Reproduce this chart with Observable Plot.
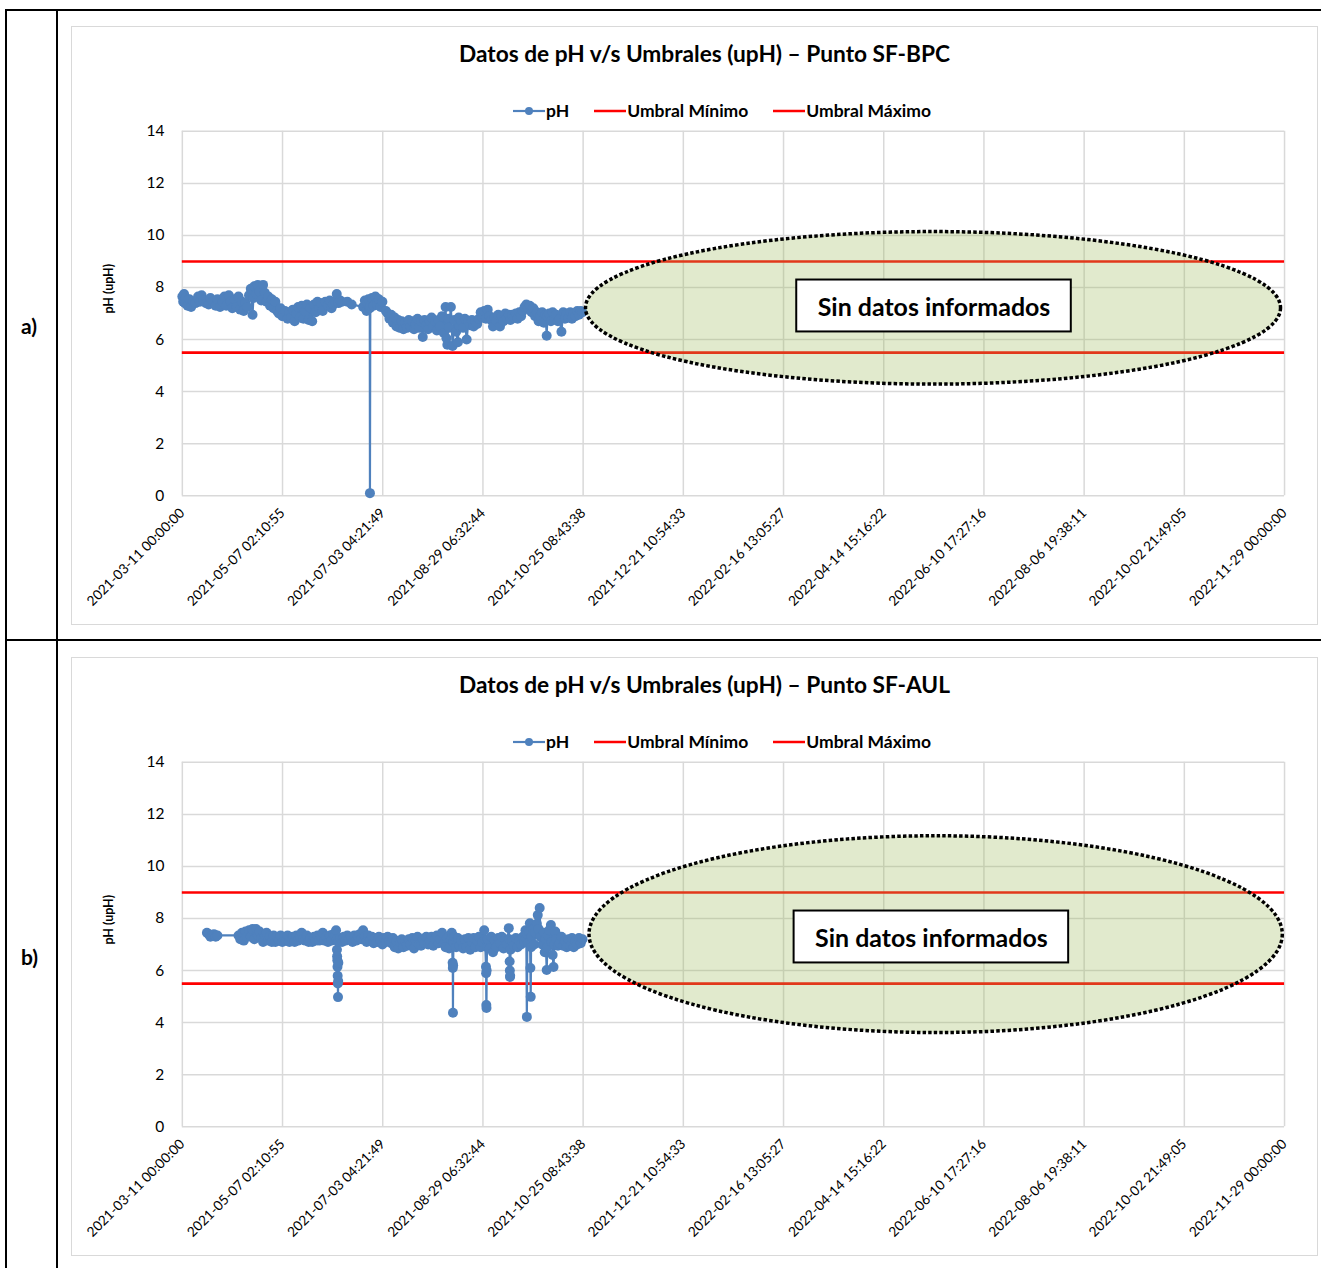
<!DOCTYPE html>
<html>
<head>
<meta charset="utf-8">
<script src="https://cdn.jsdelivr.net/npm/d3@7"></script>
<script src="https://cdn.jsdelivr.net/npm/@observablehq/plot@0.6"></script>
<style>
  html, body { margin: 0; padding: 0; background: #fff; }
  body { width: 1321px; height: 1268px; position: relative; overflow: hidden; font-family: Lato, "Open Sans", sans-serif; }
  .hline { position: absolute; height: 2px; background: #000; }
  .vline { position: absolute; width: 2px; background: #000; }
  .rowlabel { position: absolute; font-weight: bold; font-size: 21px; color: #000; }
  .box { position: absolute; left: 71px; width: 1247px; border: 1px solid #d9d9d9; box-sizing: border-box; background: #fff; }
  .title { position: absolute; left: 10px; width: 100%; text-align: center; font-weight: bold; font-size: 22.7px; color: #000; }
  .legend { position: absolute; left: 27px; width: 100%; display: flex; justify-content: center; gap: 24px; font-weight: bold; font-size: 17.5px; color: #000; align-items: center; }
  .legend span.item { display: inline-flex; align-items: center; }
  .box svg { position: absolute; left: -1px; top: -1px; }
</style>
</head>
<body>
<script>
// ---------------- data ----------------
const fechaInicio = "2021-03-11T00:00:00";
const fechaFin = "2022-11-29T00:00:00";
const umbralMinimo = 5.5;
const umbralMaximo = 9;
const yTicks = [0, 2, 4, 6, 8, 10, 12, 14];
const xTickLabels = [
  "2021-03-11 00:00:00", "2021-05-07 02:10:55", "2021-07-03 04:21:49", "2021-08-29 06:32:44",
  "2021-10-25 08:43:38", "2021-12-21 10:54:33", "2022-02-16 13:05:27", "2022-04-14 15:16:22",
  "2022-06-10 17:27:16", "2022-08-06 19:38:11", "2022-10-02 21:49:05", "2022-11-29 00:00:00"
];
const titulos = ["Datos de pH v/s Umbrales (upH) \u2013 Punto SF-BPC", "Datos de pH v/s Umbrales (upH) \u2013 Punto SF-AUL"];
const rotulos = ["a)", "b)"];
const textoSinDatos = "Sin datos informados";

// Punto SF-BPC: días desde 2021-03-11 y pH
const diasBPC = [
  0, 0.5, 1, 1.5, 2, 3, 4, 5, 6, 7.5, 9, 10, 11, 12, 13.5, 15, 16, 17.5, 19, 20, 21.5, 23, 24, 25, 26.5, 27.5, 28.5, 30, 31, 32, 33, 34, 35, 36, 37,
  38, 39, 40, 40.5, 41, 42, 43, 44, 45, 46, 47, 48, 49, 50, 51, 52, 53, 54, 55, 56, 57, 58.5, 60, 61, 62, 63, 64, 65, 66, 67, 68, 69, 70, 71, 72, 73, 74, 75, 76, 77, 78, 79, 80, 81.5, 83, 84, 85, 86, 87, 88, 89, 90, 91, 94, 96.5,
  103, 104, 105, 106, 106.8, 106.9, 107.1, 108, 109, 110, 111, 112, 113, 114,
  116, 117, 118, 119, 120, 121, 122, 123, 124, 125, 126, 127, 128, 129, 130, 131, 132, 133, 134, 135, 136, 137, 138, 139, 140, 141, 142, 143, 144, 145, 146, 147, 148, 149, 150, 150.5, 151, 151.5, 152, 153, 154, 155, 156, 157, 157.5, 158, 159, 160, 161, 162, 163, 164, 165, 166, 167, 168, 169,
  170, 171, 172, 173, 174, 175, 176, 177, 178, 179, 180, 181, 182, 183, 184, 185, 186, 187, 188, 189, 190, 191, 192, 193, 194, 195, 196, 197, 198, 199, 200, 201, 202, 203, 204, 205, 206, 207, 207.6, 208, 209, 210, 211, 212, 213, 214, 215, 216, 217, 218, 219, 220, 221, 222, 223, 224, 225, 226, 227, 228
];
const phBPC = [
  7.65, 7.45, 7.75, 7.4, 7.6, 7.3, 7.55, 7.25, 7.45, 7.4, 7.65, 7.45, 7.7, 7.5, 7.4, 7.35, 7.6, 7.45, 7.3, 7.55, 7.25, 7.45, 7.65, 7.3, 7.7, 7.45, 7.2, 7.55, 7.25, 7.65, 7.15, 7.45, 7.1, 7.4, 7.25,
  7.7, 7.95, 6.95, 7.6, 8.05, 7.75, 8.1, 7.85, 7.5, 8.1, 7.8, 7.45, 7.65, 7.3, 7.55, 7.2, 7.45, 7.1, 7.0, 7.2, 6.9, 7.1, 6.8, 7.05, 6.85, 7.15, 6.7, 7.0, 7.25, 6.85, 7.3, 6.8, 7.1, 7.35, 6.75, 7.2, 6.7, 7.35, 7.05, 7.45, 7.2, 7.4, 7.1, 7.45, 7.3, 7.5, 7.2, 7.35, 7.45, 7.75, 7.4, 7.5, 7.45, 7.45, 7.35,
  7.25, 7.5, 7.1, 7.55, 7.2, 0.1, 7.3, 7.6, 7.3, 7.65, 7.35, 7.55, 7.25, 7.45,
  7.1, 7.0, 6.8, 6.95, 6.65, 6.85, 6.5, 6.75, 6.45, 6.7, 6.4, 6.65, 6.45, 6.75, 6.5, 6.7, 6.4, 6.6, 6.8, 6.45, 6.7, 6.1, 6.75, 6.55, 6.4, 6.7, 6.85, 6.5, 6.7, 6.35, 6.75, 6.5, 6.9, 6.25, 7.25, 6.05, 5.8, 6.8, 6.45, 7.25, 5.75, 6.75, 6.3, 5.9, 6.85, 6.5, 6.7, 6.45, 6.8, 6.0, 6.7, 6.55, 6.75, 6.5, 6.7, 6.6, 6.8,
  7.05, 6.85, 7.1, 6.8, 7.15, 6.9, 6.75, 6.5, 6.85, 6.7, 6.95, 6.5, 6.9, 6.7, 7.0, 6.8, 6.95, 6.75, 6.95, 6.85, 7.0, 6.8, 7.05, 6.9, 7.1, 7.25, 7.35, 7.2, 7.3, 7.05, 7.2, 6.9, 7.05, 6.7, 6.9, 7.05, 6.65, 6.95, 6.15, 6.9, 7.0, 6.7, 7.05, 6.8, 6.95, 6.7, 6.8, 6.3, 7.05, 6.8, 7.0, 6.85, 7.05, 6.8, 7.0, 6.9, 7.1, 6.95, 7.1, 7.05
];

// Punto SF-AUL: días desde 2021-03-11 y pH
const diasAUL = [
  14, 15, 16, 17, 18, 19, 20,
  32, 33, 34, 35, 36, 37, 38, 39, 40, 41, 42, 43, 44, 45, 46, 47, 48, 49, 50, 51, 52, 53, 54, 55, 56, 57, 58, 59, 60, 61, 62, 63, 64, 65, 66, 67, 68, 69, 70, 71, 72, 73, 74, 75, 76, 77, 78, 79, 80, 81, 82, 83, 84, 85, 86,
  87, 87.6, 88, 88.1, 88.2, 88.3, 88.4, 88.5, 88.6, 88.7, 88.8, 88.9, 89,
  90, 91, 92, 93, 94, 95, 96, 97, 98, 99, 100, 101, 102, 103, 104, 105, 106, 107, 108, 109, 110, 111, 112, 113, 114, 115, 116, 117, 118, 119, 120, 121, 122, 123, 124, 125, 126, 127, 128, 129, 130, 131, 132, 133, 134, 135, 136, 137, 138, 139, 140, 141, 142, 143, 144, 145, 146,
  147, 148, 149, 150, 151, 152, 153, 153.5, 154, 154.1, 154.2, 154.3, 154.5, 155, 156, 157, 158, 159, 160, 161, 162, 163, 164, 165, 166, 167, 168,
  169, 170, 171, 172, 172.5, 173, 173.1, 173.2, 173.3, 173.4, 173.6, 174, 175, 176, 177, 178, 179, 180,
  181, 182, 183, 184, 185, 186, 186.3, 186.5, 186.6, 186.7, 186.8, 187, 188, 189, 190, 191, 192, 193,
  194, 195, 195.5, 196, 196.3, 196.6, 197, 197.5, 198, 198.3, 198.5, 198.7, 199, 200, 200.5, 201, 202, 202.5, 203, 203.6, 204, 205, 206, 206.5, 207, 207.6, 208, 208.5, 209, 210, 210.5, 211, 211.5, 212, 212.5, 213, 214,
  215, 216, 217, 218, 219, 220, 221, 222, 223, 224, 225, 226, 227, 228
];
const phAUL = [
  7.45, 7.4, 7.3, 7.35, 7.4, 7.3, 7.35,
  7.35, 7.2, 7.45, 7.15, 7.5, 7.3, 7.55, 7.3, 7.6, 7.2, 7.6, 7.35, 7.5, 7.25, 7.1, 7.35, 7.45, 7.15, 7.3, 7.1, 7.35, 7.1, 7.3, 7.15, 7.35, 7.1, 7.3, 7.15, 7.35, 7.1, 7.25, 7.3, 7.1, 7.35, 7.15, 7.3, 7.45, 7.2, 7.15, 7.35, 7.1, 7.25, 7.1, 7.3, 7.15, 7.35, 7.15, 7.3, 7.45, 7.15, 7.3, 7.1, 7.35, 7.15, 7.4,
  7.3, 7.55, 7.2, 6.8, 6.55, 6.4, 6.15, 5.8, 5.5, 4.98, 5.6, 6.3, 7.1,
  7.25, 7.1, 7.3, 7.15, 7.35, 7.2, 7.3, 7.1, 7.35, 7.15, 7.3, 7.4, 7.2, 7.55, 7.3, 7.1, 7.35, 7.15, 7.3, 7.05, 7.25, 7.1, 7.3, 7.15, 7.0, 7.25, 7.1, 7.3, 7.15, 7.05, 7.25, 6.9, 7.15, 6.85, 7.1, 7.2, 6.9, 7.15, 6.95, 7.2, 7.0, 7.25, 6.85, 7.15, 7.3, 7.0, 6.95, 7.2, 7.05, 7.3, 7.0, 7.15, 7.3, 6.95, 7.2, 7.35, 7.05,
  7.2, 7.45, 7.05, 6.9, 7.25, 6.85, 7.2, 7.45, 6.3, 6.1, 4.38, 6.2, 7.1, 7.3, 6.9, 7.25, 6.95, 7.15, 6.85, 7.2, 6.9, 7.25, 6.8, 7.1, 7.25, 6.9, 7.15,
  7.3, 6.9, 7.1, 7.55, 7.2, 6.15, 5.9, 4.68, 4.56, 6.0, 6.9, 7.2, 6.85, 7.3, 6.7, 7.15, 6.9, 7.25,
  7.05, 7.3, 6.85, 7.2, 7.0, 7.63, 7.2, 6.35, 6.0, 5.75, 5.8, 6.8, 7.15, 6.95, 7.25, 6.9, 7.15, 7.0,
  7.3, 7.1, 7.55, 7.2, 4.22, 7.4, 7.05, 7.5, 7.82, 6.1, 4.99, 6.9, 7.3, 7.6, 7.0, 7.45, 7.8, 8.13, 7.6, 8.4, 7.3, 7.0, 7.45, 6.7, 7.2, 6.02, 6.9, 7.35, 7.55, 7.75, 7.1, 6.6, 6.14, 7.0, 7.5, 7.2, 6.95,
  7.05, 7.3, 6.95, 7.15, 6.9, 7.2, 6.95, 7.25, 6.9, 7.15, 7.0, 7.25, 7.05, 7.2
];

// Anotación "Sin datos informados" (centro en días, pH; semiejes en días, pH)
const elipseBPC = { cx: 428, cy: 7.2, rx: 198, ry: 2.93, tx: 428, ty: 7.29 };
const elipseAUL = { cx: 429.5, cy: 7.38, rx: 197.5, ry: 3.78, tx: 426.5, ty: 7.29 };

// ---------------- helpers ----------------
const t0 = new Date(fechaInicio + "Z");
const dayMs = 86400000;
const toDate = d => new Date(t0.getTime() + d * dayMs);
const xTickDates = xTickLabels.map(s => new Date(s.replace(" ", "T") + "Z"));
const blue = "#4f81bd";

function line(x1, y1, x2, y2, cls) {
  const el = document.createElement("div");
  if (cls === "h") { el.className = "hline"; el.style.left = x1 + "px"; el.style.top = y1 + "px"; el.style.width = (x2 - x1) + "px"; }
  else { el.className = "vline"; el.style.left = x1 + "px"; el.style.top = y1 + "px"; el.style.height = (y2 - y1) + "px"; }
  document.body.appendChild(el);
}

function makeChart(dias, ph, elipse, titulo, top, height) {
  const data = dias.map((d, i) => ({ fecha: toDate(d), ph: ph[i] }));
  const box = document.createElement("div");
  box.className = "box";
  box.style.top = top + "px";
  box.style.height = height + "px";
  document.body.appendChild(box);

  const t = document.createElement("div");
  t.className = "title"; t.style.top = "13px"; t.textContent = titulo;
  box.appendChild(t);

  const lg = document.createElement("div");
  lg.className = "legend"; lg.style.top = "73px";
  lg.innerHTML =
    `<span class="item"><svg width="34" height="12" style="position:static"><line x1="1" y1="6" x2="33" y2="6" stroke="${blue}" stroke-width="2.2"/><circle cx="17" cy="6" r="4" fill="${blue}"/></svg>pH</span>` +
    `<span class="item"><svg width="34" height="12" style="position:static"><line x1="1" y1="6" x2="33" y2="6" stroke="#ff0000" stroke-width="2.5"/></svg>Umbral Mínimo</span>` +
    `<span class="item"><svg width="34" height="12" style="position:static"><line x1="1" y1="6" x2="33" y2="6" stroke="#ff0000" stroke-width="2.5"/></svg>Umbral Máximo</span>`;
  box.appendChild(lg);

  const ann = (index, scales) => {
    const x = scales.x, y = scales.y;
    const g = document.createElementNS("http://www.w3.org/2000/svg", "g");
    const cx = x(toDate(elipse.cx)), cy = y(elipse.cy);
    const rx = x(toDate(elipse.cx + elipse.rx)) - cx;
    const ry = y(elipse.cy - elipse.ry) - cy;
    const e = document.createElementNS("http://www.w3.org/2000/svg", "ellipse");
    e.setAttribute("cx", cx); e.setAttribute("cy", cy); e.setAttribute("rx", rx); e.setAttribute("ry", ry);
    e.setAttribute("fill", "rgba(155,187,89,0.3)");
    e.setAttribute("stroke", "#000"); e.setAttribute("stroke-width", "3.5"); e.setAttribute("stroke-dasharray", "3.5 2.2");
    g.appendChild(e);
    const tx = x(toDate(elipse.tx)), ty = y(elipse.ty);
    const r = document.createElementNS("http://www.w3.org/2000/svg", "rect");
    r.setAttribute("x", tx - 137); r.setAttribute("y", ty - 26); r.setAttribute("width", 275); r.setAttribute("height", 52);
    r.setAttribute("fill", "#fff"); r.setAttribute("stroke", "#000"); r.setAttribute("stroke-width", "2");
    g.appendChild(r);
    const tt = document.createElementNS("http://www.w3.org/2000/svg", "text");
    tt.setAttribute("x", tx + 1); tt.setAttribute("y", ty + 1); tt.setAttribute("text-anchor", "middle"); tt.setAttribute("dominant-baseline", "central");
    tt.setAttribute("font-size", "25"); tt.setAttribute("font-weight", "bold"); tt.setAttribute("fill", "#000");
    tt.textContent = textoSinDatos;
    g.appendChild(tt);
    return g;
  };

  const chart = Plot.plot({
    width: 1247,
    height: height,
    marginLeft: 111,
    marginRight: 32,
    marginTop: 105,
    marginBottom: height - 470,
    style: { fontFamily: "Lato, 'Open Sans', sans-serif", background: "transparent", overflow: "visible" },
    x: { type: "utc", domain: [new Date(fechaInicio + "Z"), new Date(fechaFin + "Z")] },
    y: { domain: [0, 14] },
    marks: [
      Plot.gridX(xTickDates, { stroke: "#d9d9d9", strokeOpacity: 1, strokeWidth: 1.5 }),
      Plot.gridY(yTicks, { stroke: "#d9d9d9", strokeOpacity: 1, strokeWidth: 1.5 }),
      Plot.axisY({ ticks: yTicks, tickSize: 0, tickPadding: 18, fontSize: 15.5, fill: "#000", label: null }),
      Plot.axisX({ ticks: xTickDates, tickSize: 0, tickPadding: 15, tickRotate: -45, fontSize: 13.7, fill: "#000", label: null,
                   tickFormat: d => xTickLabels[xTickDates.findIndex(v => v.getTime() === d.getTime())] }),
      Plot.text(["pH (upH)"], { frameAnchor: "left", dx: -73, rotate: -90, fontSize: 12.5, fontWeight: "bold", fill: "#000" }),
      Plot.ruleY([umbralMinimo], { stroke: "#ff0000", strokeWidth: 2.6 }),
      Plot.ruleY([umbralMaximo], { stroke: "#ff0000", strokeWidth: 2.6 }),
      Plot.line(data, { x: "fecha", y: "ph", stroke: blue, strokeWidth: 2.2 }),
      Plot.dot(data, { x: "fecha", y: "ph", r: 5, fill: blue, stroke: "none" }),
      ann
    ]
  });
  box.appendChild(chart);
}

// table lines
line(6, 9, 1321, 9, "h");
line(6, 639, 1321, 639, "h");
line(5, 9, 5, 1268, "v");
line(56, 9, 56, 1268, "v");
const la = document.createElement("div"); la.className = "rowlabel"; la.style.left = "21px"; la.style.top = "313px"; la.textContent = rotulos[0]; document.body.appendChild(la);
const lb = document.createElement("div"); lb.className = "rowlabel"; lb.style.left = "21px"; lb.style.top = "944px"; lb.textContent = rotulos[1]; document.body.appendChild(lb);

makeChart(diasBPC, phBPC, elipseBPC, titulos[0], 26, 599);
makeChart(diasAUL, phAUL, elipseAUL, titulos[1], 657, 599);
</script>
</body>
</html>
